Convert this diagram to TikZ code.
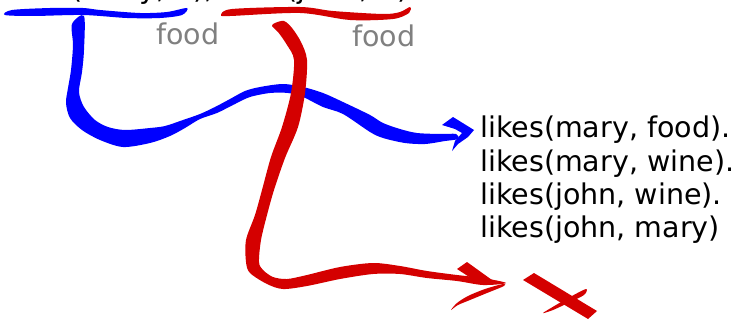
\documentclass[tikz,border=0pt]{standalone}
\usepackage{fontspec}
\setmainfont{DejaVu Sans}
\definecolor{brushred}{RGB}{212,0,0}
\definecolor{brushblue}{RGB}{0,0,255}
\definecolor{subgray}{RGB}{128,128,128}
\begin{document}
\begin{tikzpicture}[x=0.75pt,y=-0.75pt,
  txt/.style={inner sep=0pt, anchor=base west, font=\fontsize{21.4}{25}\selectfont},
  subst/.style={txt, text=subgray}]
\useasboundingbox (0,0) rectangle (737,321);

% ---------- blue ----------
\fill[brushblue] plot[smooth cycle, tension=0.5] coordinates {
  (5,15) (12,10) (50,8) (83,8) (100,10) (140,13) (167,12) (187,8)
  (182,15) (160,18) (127,18) (83,15) (33,16)};
\fill[brushblue] plot[smooth cycle, tension=0.5] coordinates {
  (72,24) (73,45) (71,70) (68,88) (66,103) (70,118) (82,130) (100,140)
  (123,147) (150,143) (170,136) (185,128) (200,119) (217,113) (235,104)
  (250,97) (270,93) (288,93) (303,97) (323,107) (343,114) (370,132)
  (383,138) (405,143) (425,144) (445,141) (458,139)
  (456,134) (440,134) (417,133) (400,129) (383,123) (370,115) (343,102)
  (323,93) (303,87) (283,84) (260,87) (245,91) (230,99) (215,107)
  (200,114) (183,120) (165,126) (150,128) (125,130) (108,127) (95,120)
  (84,107) (79,92) (82,72) (84,50) (84,16)};
\fill[brushblue] (442,125) -- (453,117) -- (474,130) -- (468,137)
  -- (458,144) -- (452,151) -- (455,141) -- (462,133) -- (455,129) -- cycle;

% ---------- red ----------
\fill[brushred] plot[smooth cycle, tension=0.5] coordinates {
  (221,15) (232,9) (300,7) (333,11) (383,14) (400,12) (410,7)
  (409,13) (393,19) (350,20) (300,13) (230,16)};
\fill[brushred] plot[smooth cycle, tension=0.5] coordinates {
  (275,23) (284,21) (292,28) (301,42) (307,60) (305,93) (298,127)
  (285,158) (274,190) (267,215) (261,240) (259,262) (263,270) (273,277)
  (287,279) (307,275) (340,267) (373,263) (400,266) (427,271) (457,275)
  (483,278) (506,283)
  (483,285) (457,281) (427,278) (400,274) (373,274) (340,279) (307,286)
  (283,289) (267,284) (250,273) (246,262) (246,240) (255,215) (262,190)
  (271,157) (282,127) (291,93) (294,60) (287,45) (278,32) (272,26)};
\fill[brushred] (457,269) -- (467,262) -- (492,280) -- (480,284) -- cycle;
\fill[brushred] plot[smooth cycle, tension=0.5] coordinates {
  (503,284) (485,289) (468,296) (457,303) (451,310) (458,305) (470,300)
  (487,293) (504,286)};
\fill[brushred] (523,280) -- (534,273) -- (597,311) -- (588,319) -- cycle;
\fill[brushred] plot[smooth cycle, tension=0.5] coordinates {
  (586,289) (570,297) (556,305) (543,313) (553,310) (568,303) (584,295)};

% ---------- text ----------
\node[txt] (query) at (7,-1.5) {likes(mary, X), likes(john, X)};
\node[subst] (food1) at (156,44.5) {food};
\node[subst] (food2) at (352,46.5) {food};
\node[txt] (f1) at (480,137.3) {likes(mary, food).};
\node[txt] (f2) at (480,171) {likes(mary, wine).};
\node[txt] (f3) at (480,204.3) {likes(john, wine).};
\node[txt] (f4) at (480,237.7) {likes(john, mary)};
\end{tikzpicture}
\end{document}
